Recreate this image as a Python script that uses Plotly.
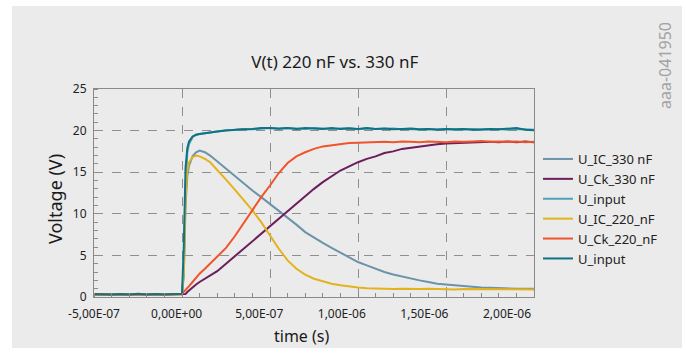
import plotly.graph_objects as go

# time grid in units of 1e-7 s
T_UNIT = 1e-7
time_e7 = [-5, -4.5, -4, -3.5, -3, -2.5, -2, -1.5, -1, -0.5, 0,
           0.1, 0.2, 0.3, 0.4, 0.6, 0.8, 1.0, 1.3, 1.6,
           2.0, 2.5, 3.0, 3.5, 4.0, 4.5, 5.0, 5.5, 6.0, 6.5, 7.0, 7.5, 8.0, 8.5, 9.0, 9.5,
           10, 10.5, 11, 11.5, 12, 12.5, 13, 13.5, 14, 14.5, 15, 15.5, 16, 16.5, 17, 17.5,
           18, 18.5, 19, 19.5, 20]

u_ic_330 = [0.3, 0.35, 0.3, 0.3, 0.35, 0.3, 0.3, 0.35, 0.3, 0.3, 0.3,
            2.5, 11.0, 14.5, 15.8, 16.9, 17.4, 17.6, 17.4, 17.0,
            16.3, 15.4, 14.5, 13.6, 12.8, 12.0, 11.2, 10.4, 9.6, 8.7, 7.8, 7.1, 6.5, 5.9, 5.3, 4.7,
            4.2, 3.8, 3.4, 3.0, 2.7, 2.45, 2.2, 2.0, 1.8, 1.6, 1.5, 1.4, 1.3, 1.25, 1.15, 1.1,
            1.05, 1.05, 1.0, 1.0, 1.0]

u_ck_330 = [0.3, 0.3, 0.35, 0.3, 0.3, 0.35, 0.3, 0.3, 0.35, 0.3, 0.3,
            0.3, 0.35, 0.6, 0.8, 1.1, 1.5, 1.8, 2.2, 2.6,
            3.1, 4.0, 4.9, 5.8, 6.7, 7.6, 8.5, 9.5, 10.3, 11.2, 12.2, 13.0, 13.8, 14.5, 15.2, 15.7,
            16.2, 16.6, 16.9, 17.3, 17.5, 17.8, 17.95, 18.1, 18.25, 18.35, 18.45, 18.5, 18.55, 18.6, 18.6, 18.65,
            18.6, 18.7, 18.6, 18.7, 18.6]

u_input_a = [0.3, 0.3, 0.35, 0.3, 0.35, 0.3, 0.3, 0.35, 0.3, 0.3, 0.35,
             3.0, 13.0, 17.3, 18.4, 19.2, 19.5, 19.6, 19.7, 19.8,
             19.9, 20.05, 20.1, 20.2, 20.15, 20.25, 20.3, 20.2, 20.3, 20.25, 20.2, 20.3, 20.25, 20.2, 20.25, 20.3,
             20.15, 20.25, 20.2, 20.2, 20.25, 20.15, 20.2, 20.1, 20.2, 20.15, 20.2, 20.1, 20.15, 20.2, 20.1, 20.15,
             20.2, 20.1, 20.2, 20.15, 20.1]

u_ic_220 = [0.3, 0.3, 0.35, 0.3, 0.3, 0.3, 0.35, 0.3, 0.3, 0.35, 0.3,
            3.0, 12.0, 15.2, 16.2, 16.8, 17.0, 16.9, 16.6, 16.2,
            15.3, 14.1, 12.9, 11.7, 10.4, 9.0, 7.4, 5.8, 4.4, 3.4, 2.7, 2.2, 1.9, 1.6, 1.4, 1.25,
            1.15, 1.05, 1.0, 1.0, 0.95, 1.0, 0.95, 0.95, 1.0, 0.95, 0.95, 0.9, 0.95, 0.95, 0.9, 0.95,
            0.95, 0.9, 0.95, 0.95, 0.9]

u_ck_220 = [0.3, 0.3, 0.3, 0.35, 0.3, 0.3, 0.3, 0.35, 0.3, 0.3, 0.4,
            0.6, 0.85, 1.1, 1.3, 1.8, 2.3, 2.8, 3.4, 4.0,
            4.8, 5.9, 7.3, 8.9, 10.5, 12.0, 13.4, 14.9, 16.1, 16.9, 17.4, 17.8, 18.1, 18.25, 18.4, 18.5,
            18.55, 18.6, 18.6, 18.65, 18.6, 18.7, 18.65, 18.6, 18.7, 18.65, 18.6, 18.7, 18.65, 18.7, 18.75, 18.65,
            18.7, 18.65, 18.7, 18.6, 18.65]

u_input_b = [0.35, 0.3, 0.3, 0.35, 0.3, 0.4, 0.3, 0.35, 0.3, 0.35, 0.4,
             6.0, 15.5, 17.9, 18.7, 19.3, 19.5, 19.6, 19.7, 19.75,
             19.9, 20.0, 20.1, 20.15, 20.2, 20.3, 20.3, 20.25, 20.3, 20.2, 20.3, 20.25, 20.2, 20.3, 20.2, 20.25,
             20.2, 20.3, 20.2, 20.25, 20.15, 20.2, 20.25, 20.15, 20.2, 20.1, 20.2, 20.15, 20.2, 20.1, 20.15, 20.2,
             20.15, 20.2, 20.3, 20.1, 20.05]

series_names = ["U_IC_330 nF", "U_Ck_330 nF", "U_input", "U_IC_220_nF", "U_Ck_220_nF", "U_input"]
series_values = [u_ic_330, u_ck_330, u_input_a, u_ic_220, u_ck_220, u_input_b]
series_colors = ["#6b93a9", "#6c1d5c", "#4fa3b8", "#e2b31c", "#f0542a", "#0f7384"]

x_tick_vals = [-5e-7, 0.0, 5e-7, 1e-6, 1.5e-6, 2e-6]
x_tick_text = ["-5,00E-07", "0,00E+00", "5,00E-07", "1,00E-06", "1,50E-06", "2,00E-06"]
y_tick_vals = [0, 5, 10, 15, 20, 25]

X_RANGE = [-5e-7, 2e-6]
XLABEL_RANGE = [-5.0e-7, 2.1634e-6]  # label axis (labels sit slightly left of gridlines in original)
Y_RANGE = [0, 25]

FONT = "Noto Sans"
BG = "#ebebeb"
AXIS_COL = "#8a8a8a"
GRID_COL = "#8f8f8f"

time_s = [t * T_UNIT for t in time_e7]

fig = go.Figure()
for i, (name, vals, col) in enumerate(zip(series_names, series_values, series_colors)):
    fig.add_trace(go.Scatter(
        x=time_s, y=vals, mode="lines", name=name,
        line=dict(color=col, width=2),
        legendgroup=f"g{i}",
    ))

# invisible trace carrying the x tick-label axis
fig.add_trace(go.Scatter(x=[X_RANGE[0]], y=[0], xaxis="x2", mode="markers",
                         marker=dict(opacity=0), showlegend=False, hoverinfo="skip"))

W, H = 686, 354
L, R, T, B = 94, 152, 89, 57
pw, ph = W - L - R, H - T - B


def px_to_paper_x(px):
    return (px - L) / pw


def px_to_paper_y(py):
    return (H - B - py) / ph


fig.update_layout(
    width=W, height=H,
    margin=dict(l=L, r=R, t=T, b=B),
    paper_bgcolor="white",
    plot_bgcolor=BG,
    font=dict(family=FONT, size=12, color="#222"),
    title=dict(text="V(t) 220 nF vs. 330 nF", x=0.488, xref="container", xanchor="center",
               y=1 - 62 / H, yref="container", yanchor="middle",
               font=dict(size=17, color="#1a1a1a", family=FONT)),
    xaxis=dict(range=X_RANGE, tickvals=x_tick_vals, showticklabels=False,
               showgrid=True, gridcolor=GRID_COL, griddash="dash", gridwidth=1,
               showline=True, linecolor=AXIS_COL, linewidth=1, mirror=True,
               ticks="", zeroline=False,
               minor=dict(dtick=1e-7, tick0=0, ticks="inside", ticklen=4, tickcolor=AXIS_COL, showgrid=False)),
    xaxis2=dict(range=XLABEL_RANGE, autorange=False, overlaying="x", anchor="y", side="bottom",
                tickvals=x_tick_vals, ticktext=x_tick_text, showgrid=False, showline=False,
                zeroline=False, ticks="", ticklabelstandoff=8, tickfont=dict(size=12, color="#222")),
    yaxis=dict(range=Y_RANGE, tickvals=y_tick_vals, showgrid=True, gridcolor=GRID_COL,
               griddash="dash", gridwidth=1, showline=True, linecolor=AXIS_COL, linewidth=1,
               mirror=True, ticks="", zeroline=False, tickfont=dict(size=12, color="#222"),
               ticklabelstandoff=4,
               minor=dict(dtick=1, ticks="inside", ticklen=4, tickcolor=AXIS_COL, showgrid=False)),
    legend=dict(x=px_to_paper_x(538), y=px_to_paper_y(144), xanchor="left", yanchor="top",
                bgcolor="rgba(0,0,0,0)", font=dict(size=13, color="#222"),
                tracegroupgap=7, traceorder="normal"),
    showlegend=True,
    shapes=[dict(type="rect", xref="paper", yref="paper", layer="below",
                 x0=px_to_paper_x(12), x1=px_to_paper_x(682),
                 y0=px_to_paper_y(348), y1=px_to_paper_y(6),
                 fillcolor=BG, line=dict(width=0))],
    annotations=[
        dict(text="aaa-041950", xref="paper", yref="paper",
             x=px_to_paper_x(665), y=px_to_paper_y(66), textangle=-90,
             showarrow=False, font=dict(size=16, color="#a3a3a3", family=FONT),
             xanchor="center", yanchor="middle"),
        dict(text="time (s)", xref="paper", yref="paper",
             x=px_to_paper_x(302), y=px_to_paper_y(336), showarrow=False,
             font=dict(size=16, color="#1a1a1a", family=FONT),
             xanchor="center", yanchor="middle"),
        dict(text="Voltage (V)", xref="paper", yref="paper",
             x=px_to_paper_x(55), y=px_to_paper_y(199), textangle=-90, showarrow=False,
             font=dict(size=18, color="#1a1a1a", family=FONT),
             xanchor="center", yanchor="middle"),
    ],
)

fig.write_html("out.html")
